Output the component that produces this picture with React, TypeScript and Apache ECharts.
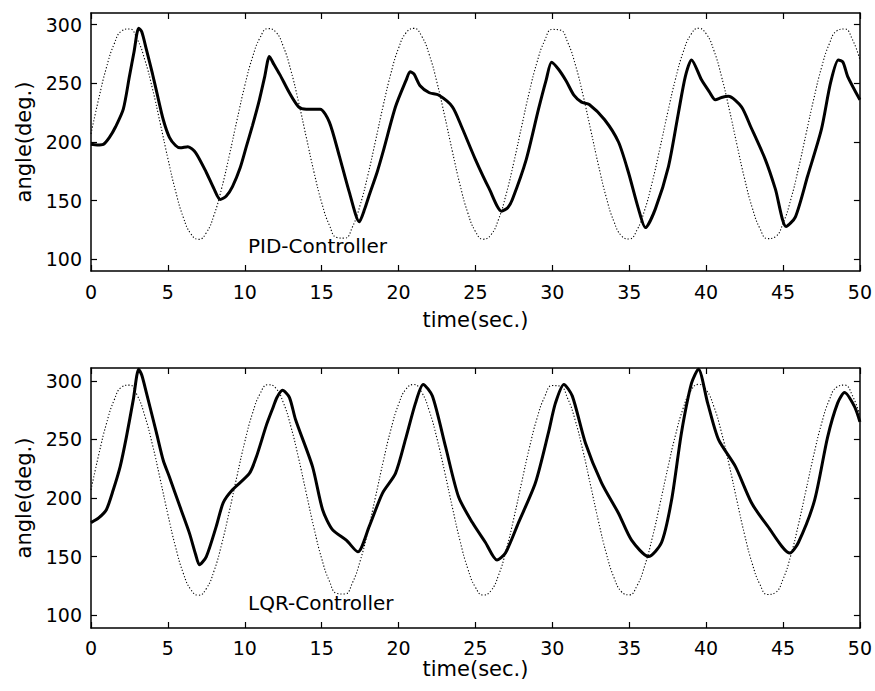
import React, { useEffect, useRef } from "react";
import * as echarts from "echarts";

// Time axis ticks and value ticks
const xTicks = [0, 5, 10, 15, 20, 25, 30, 35, 40, 45, 50];
const yTicks = [100, 150, 200, 250, 300];

// Reference trajectory (dotted), sampled every 0.5 s from t = 0 to 50
const refTimes = Array.from({ length: 101 }, (_, i) => i * 0.5);
const refValues = [
  207, 236.8, 263.3, 283.4, 294.8, 296.4, 287.8, 270.1, 245.3, 216.1,
  185.9, 158.1, 135.8, 121.6, 117.0, 122.6, 137.7, 160.7, 188.9, 219.1,
  248.0, 272.2, 289.1, 296.7, 294.1, 281.7, 260.9, 233.9, 204.0, 174.3,
  148.3, 129.1, 118.5, 118.0, 127.6, 146.1, 171.5, 200.9, 231.0, 258.4,
  280.0, 293.3, 296.9, 290.3, 274.3, 250.7, 222.1, 191.9, 163.3, 139.7,
  123.7, 117.1, 120.7, 134.0, 155.6, 183.0, 213.1, 242.5, 267.9, 286.4,
  296.0, 295.5, 284.9, 265.7, 239.7, 210.0, 180.1, 153.1, 132.3, 119.9,
  117.3, 124.9, 141.8, 166.0, 194.9, 225.1, 253.3, 276.3, 291.4, 297.0,
  292.4, 278.2, 255.9, 228.1, 197.9, 168.7, 143.9, 126.2, 117.6, 119.2,
  130.6, 150.7, 177.2, 207.0, 236.8, 263.3, 283.4, 294.8, 296.4, 287.8,
  270.1,
];

// PID-controller response (solid)
const pidTimes = [
  0, 0.4, 0.8, 1.2, 1.6, 2.1, 2.5, 2.8, 3.1, 3.3, 3.6, 4.0, 4.3, 4.7, 5.1,
  5.5, 5.8, 6.3, 6.8, 7.5, 8.0, 8.4, 8.8, 9.2, 9.7, 10.1, 10.5, 10.95, 11.3,
  11.6, 11.9, 12.3, 12.9, 13.5, 14.0, 14.9, 15.5, 16.15, 16.8, 17.45, 17.8,
  18.1, 18.6, 19.0, 19.8, 20.5, 20.75, 21.0, 21.4, 22.0, 22.6, 23.5, 24.1,
  25.0, 25.9, 26.7, 27.1, 27.4, 28.3, 29.1, 29.6, 29.95, 30.4, 30.9, 31.4,
  31.9, 32.4, 33.4, 34.3, 34.95, 35.6, 36.05, 36.7, 37.55, 38.2, 38.65,
  39.05, 39.7, 40.2, 40.6, 41.0, 41.45, 42.3, 42.9, 43.85, 44.5, 45.2, 45.8,
  46.6, 47.5, 48.1, 48.6, 48.9, 49.2, 50,
];
const pidValues = [
  198, 197.5, 198, 204, 213, 228, 256, 277, 297, 294, 279, 258, 241, 219, 204,
  197, 195, 196, 191, 174, 160, 151, 154, 162, 178, 196, 214, 236, 256,
  273, 266, 257, 242, 230, 228, 228, 217, 188, 157, 132, 143,
  155, 174, 192, 230, 253, 260, 258, 248, 242, 240, 230, 213,
  185, 160, 141, 144, 151, 185, 228, 253, 268, 262, 252, 240,
  234, 232, 219, 200, 174, 143, 127, 143, 179, 225, 256,
  270, 253, 243, 236, 238, 239, 230, 213, 185, 160, 128, 136,
  171, 211, 251, 270, 268, 256, 236,
];

// LQR-controller response (solid)
const lqrTimes = [
  0, 0.5, 1.0, 1.45, 1.9, 2.3, 2.75, 3.1, 3.3, 3.6, 4.25, 4.7, 5.1, 5.8, 6.4,
  6.8, 7.05, 7.5, 8.15, 8.6, 9.2, 10.3, 10.75, 11.4, 11.8, 12.1, 12.45, 12.9,
  13.3, 14.4, 15.06, 15.7, 16.6, 17.35, 18.1, 18.95, 19.8, 20.45, 21.1, 21.6,
  22.2, 23.05, 23.9, 24.8, 25.65, 26.4, 26.95, 27.8, 28.9, 29.75, 30.2, 30.75,
  31.3, 32.15, 33.2, 34.3, 35.15, 36.25, 37.1, 37.75, 38.4, 39.05, 39.5,
  40.1, 40.8, 41.9, 42.95, 44.0, 45.45, 46.0, 47.05, 47.9, 48.55, 49.0,
  49.65, 50,
];
const lqrValues = [
  179, 183, 190, 207, 227, 252, 284, 310, 305, 290, 256, 232, 218, 192, 170,
  152, 143, 150, 176, 196, 207, 221, 235, 262, 276, 286, 292, 286,
  267, 227, 190, 173, 164, 154, 176, 204, 221, 250, 281, 297,
  287, 244, 201, 179, 162, 147, 153, 179, 213, 256, 281, 297,
  287, 247, 213, 187, 164, 150, 162, 198, 256, 298, 310,
  281, 250, 227, 196, 176, 153, 162, 198, 252, 281, 290,
  278, 265,
];

const titles = ["PID-Controller", "LQR-Controller"];
const xName = "time(sec.)";
const yName = "angle(deg.)";

const zip = (xs: number[], ys: number[]) => xs.map((x, i) => [x, ys[i]]);

const FONT = "DejaVu Sans";

export default function App() {
  const ref = useRef<HTMLDivElement>(null);

  useEffect(() => {
    document.body.style.margin = "0";
    if (!ref.current) return;
    const chart = echarts.init(ref.current, undefined, { renderer: "svg" });

    const axisLine = { show: true, onZero: false, lineStyle: { color: "#000", width: 1.5 } };
    const tick = (vals?: number[]) => ({
      show: true,
      inside: true,
      length: 6,
      lineStyle: { color: "#000", width: 1.2 },
      ...(vals ? { customValues: vals } : {}),
    });

    const xAxisBottom = (gridIndex: number, margin: number, nameGap: number) => ({
      type: "value",
      gridIndex,
      min: xTicks[0],
      max: xTicks[xTicks.length - 1],
      interval: 5,
      position: "bottom",
      name: xName,
      nameLocation: "middle",
      nameGap,
      nameTextStyle: { fontFamily: FONT, fontSize: 21, color: "#000" },
      axisLine,
      axisTick: tick(),
      axisLabel: { show: true, margin, fontFamily: FONT, fontSize: 19, color: "#000" },
      splitLine: { show: false },
    });
    const xAxisTop = (gridIndex: number) => ({
      type: "value",
      gridIndex,
      min: xTicks[0],
      max: xTicks[xTicks.length - 1],
      interval: 5,
      position: "top",
      axisLine,
      axisTick: tick(),
      axisLabel: { show: false },
      splitLine: { show: false },
    });
    const yAxisLeft = (gridIndex: number, min: number, max: number) => ({
      type: "value",
      gridIndex,
      min,
      max,
      position: "left",
      name: yName,
      nameLocation: "middle",
      nameGap: 57,
      nameTextStyle: { fontFamily: FONT, fontSize: 21, color: "#000" },
      axisLine,
      axisTick: tick(yTicks),
      axisLabel: {
        show: true,
        margin: 9,
        fontFamily: FONT,
        fontSize: 19,
        color: "#000",
        customValues: yTicks,
        padding: [0, 0, 8, 0],
      },
      splitLine: { show: false },
    });
    const yAxisRight = (gridIndex: number, min: number, max: number) => ({
      type: "value",
      gridIndex,
      min,
      max,
      position: "right",
      axisLine,
      axisTick: tick(yTicks),
      axisLabel: { show: false },
      splitLine: { show: false },
    });

    const refStyle = { color: "#000", width: 1.1, type: [1.2, 2] };
    const solidStyle = { color: "#000", width: 3 };

    chart.setOption({
      animation: false,
      backgroundColor: "#fff",
      grid: [
        { left: 91, right: 13, top: 13, height: 258 },
        { left: 91, right: 13, top: 368, height: 260 },
      ],
      xAxis: [
        xAxisBottom(0, 11, 38),
        xAxisTop(0),
        xAxisBottom(1, 10, 30),
        xAxisTop(1),
      ],
      yAxis: [
        yAxisLeft(0, 90, 310),
        yAxisRight(0, 90, 310),
        yAxisLeft(1, 89, 311),
        yAxisRight(1, 89, 311),
      ],
      series: [
        {
          type: "line",
          xAxisIndex: 0,
          yAxisIndex: 0,
          data: zip(refTimes, refValues),
          smooth: true,
          showSymbol: false,
          lineStyle: refStyle,
        },
        {
          type: "line",
          xAxisIndex: 0,
          yAxisIndex: 0,
          data: zip(pidTimes, pidValues),
          smooth: 0.25,
          showSymbol: false,
          lineStyle: solidStyle,
        },
        {
          type: "line",
          xAxisIndex: 2,
          yAxisIndex: 2,
          data: zip(refTimes, refValues),
          smooth: true,
          showSymbol: false,
          lineStyle: refStyle,
        },
        {
          type: "line",
          xAxisIndex: 2,
          yAxisIndex: 2,
          data: zip(lqrTimes, lqrValues),
          smooth: 0.25,
          showSymbol: false,
          lineStyle: solidStyle,
        },
      ],
      graphic: [
        {
          type: "text",
          left: 248,
          top: 236,
          style: { text: titles[0], fontFamily: FONT, fontSize: 20, fill: "#000" },
        },
        {
          type: "text",
          left: 248,
          top: 593,
          style: { text: titles[1], fontFamily: FONT, fontSize: 20, fill: "#000" },
        },
      ],
    });

    return () => chart.dispose();
  }, []);

  return <div ref={ref} style={{ width: 875, height: 691 }} />;
}
